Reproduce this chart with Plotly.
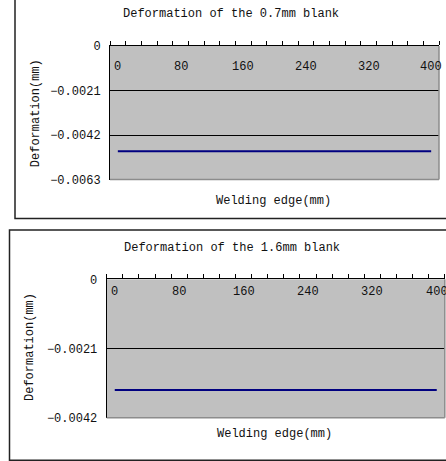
import plotly.graph_objects as go

W, H = 446, 461

# ---- data ----
categories = [0, 20, 40, 60, 80, 100, 120, 140, 160, 180, 200,
              220, 240, 260, 280, 300, 320, 340, 360, 380, 400]
deform_07 = [-0.00497, -0.00497, -0.00497, -0.00497, -0.00497, -0.00497, -0.00497,
             -0.00497, -0.00497, -0.00497, -0.00497, -0.00497, -0.00497, -0.00497,
             -0.00497, -0.00497, -0.00497, -0.00497, -0.00497, -0.00497, -0.00497]
deform_16 = [-0.00336, -0.00336, -0.00336, -0.00336, -0.00336, -0.00336, -0.00336,
             -0.00336, -0.00336, -0.00336, -0.00336, -0.00336, -0.00336, -0.00336,
             -0.00336, -0.00336, -0.00336, -0.00336, -0.00336, -0.00336, -0.00336]
x_tick_vals = [0, 80, 160, 240, 320, 400]
x_tick_text = ["0", "80", "160", "240", "320", "400"]
y_ticks_07 = [0, -0.0021, -0.0042, -0.0063]
y_text_07 = ["0", "\u22120.0021", "\u22120.0042", "\u22120.0063"]
y_ticks_16 = [0, -0.0021, -0.0042]
y_text_16 = ["0", "\u22120.0021", "\u22120.0042"]
titles = ["Deformation of the 0.7mm blank", "Deformation of the 1.6mm blank"]
x_title = "Welding edge(mm)"
y_title = "Deformation(mm)"

FONT = "Liberation Mono"
GRAY_BG = "#C0C0C0"
LINE_COLOR = "#000080"
TEXT_COLOR = "#111111"

# category boundaries (Excel-style tick marks between categories)
half = (categories[1] - categories[0]) / 2
bounds = [c - half for c in categories] + [categories[-1] + half]


def px_x(p):
    return p / W


def px_y(p):
    return 1 - p / H


fig = go.Figure()
fig.add_trace(go.Scatter(x=categories, y=deform_07, mode="lines",
                         line=dict(color=LINE_COLOR, width=2),
                         xaxis="x", yaxis="y", showlegend=False))
fig.add_trace(go.Scatter(x=categories, y=deform_16, mode="lines",
                         line=dict(color=LINE_COLOR, width=2),
                         xaxis="x2", yaxis="y2", showlegend=False))

panels = [
    dict(xd=[px_x(110), px_x(439)], yd=[px_y(179.5), px_y(46)],
         yt=y_ticks_07, ytt=y_text_07, yr=[-0.0063, 0], lab_shift=-21),
    dict(xd=[px_x(106.7), px_x(444.8)], yd=[px_y(417.7), px_y(279.3)],
         yt=y_ticks_16, ytt=y_text_16, yr=[-0.0042, 0], lab_shift=-12.5),
]

layout = dict(
    width=W, height=H, margin=dict(l=0, r=0, t=0, b=0, autoexpand=False),
    paper_bgcolor="white", plot_bgcolor=GRAY_BG,
    font=dict(family=FONT, size=12, color=TEXT_COLOR),
    showlegend=False,
)
shapes = []
annotations = []
for i, p in enumerate(panels):
    sx = "" if i == 0 else str(i + 1)
    xref = "x" + sx
    yref = "y" + sx
    layout["xaxis" + sx] = dict(
        domain=p["xd"], anchor=yref, side="top", range=[bounds[0], bounds[-1]],
        showline=True, linecolor="black", linewidth=1,
        tickmode="array", tickvals=bounds,
        ticks="outside", ticklen=4, tickcolor="black", tickwidth=1,
        showticklabels=False, showgrid=False, zeroline=False, automargin=False,
    )
    layout["yaxis" + sx] = dict(
        domain=p["yd"], anchor=xref, range=p["yr"],
        showline=True, linecolor="black", linewidth=1,
        tickmode="array", tickvals=p["yt"], ticktext=p["ytt"],
        ticks="inside", ticklen=5, tickcolor="black",
        ticklabelstandoff=6,
        tickfont=dict(family=FONT, size=12, color=TEXT_COLOR),
        showgrid=True, gridcolor="black", gridwidth=1, zeroline=False,
        automargin=False,
    )
    # x category labels inside the plot, below the top axis line
    for v, t in zip(x_tick_vals, x_tick_text):
        annotations.append(dict(text=t, xref=xref, yref=yref, x=v, y=0,
                                xanchor="center", yanchor="middle",
                                yshift=p["lab_shift"], showarrow=False,
                                font=dict(family=FONT, size=12, color=TEXT_COLOR)))
    # gray plot-area border on bottom and right
    xd, yd = p["xd"], p["yd"]
    shapes.append(dict(type="line", xref="paper", yref="paper", layer="above",
                       x0=xd[0], x1=xd[1], y0=yd[0], y1=yd[0],
                       line=dict(color="#8C8C8C", width=1.5)))
    shapes.append(dict(type="line", xref="paper", yref="paper", layer="above",
                       x0=xd[1], x1=xd[1], y0=yd[0], y1=yd[1],
                       line=dict(color="#8C8C8C", width=1.5)))

# chart outer borders
shapes.append(dict(type="rect", xref="paper", yref="paper", layer="below",
                   x0=px_x(15), x1=1.05, y0=px_y(218.5), y1=1.05,
                   line=dict(color="#222222", width=1.5)))
shapes.append(dict(type="rect", xref="paper", yref="paper", layer="below",
                   x0=px_x(9.5), x1=1.05, y0=px_y(460.2), y1=px_y(230),
                   line=dict(color="#222222", width=1.5)))

# titles and axis titles
title_pos = [(231, 14), (231.5, 248)]
xt_pos = [(273, 201), (274, 434.3)]
yt_pos = [(35.5, 113.7), (30, 347)]
for i in range(2):
    annotations.append(dict(text=titles[i], xref="paper", yref="paper",
                            x=px_x(title_pos[i][0]), y=px_y(title_pos[i][1]),
                            xanchor="center", yanchor="middle", showarrow=False,
                            font=dict(family=FONT, size=12, color=TEXT_COLOR)))
    annotations.append(dict(text=x_title, xref="paper", yref="paper",
                            x=px_x(xt_pos[i][0]), y=px_y(xt_pos[i][1]),
                            xanchor="center", yanchor="middle", showarrow=False,
                            font=dict(family=FONT, size=12, color=TEXT_COLOR)))
    annotations.append(dict(text=y_title, xref="paper", yref="paper",
                            x=px_x(yt_pos[i][0]), y=px_y(yt_pos[i][1]),
                            xanchor="center", yanchor="middle", showarrow=False,
                            textangle=-90,
                            font=dict(family=FONT, size=12, color=TEXT_COLOR)))

layout["shapes"] = shapes
layout["annotations"] = annotations
fig.update_layout(**layout)
fig.write_html("out.html", config={"displayModeBar": False},
               post_script="document.body.style.margin='0';document.body.style.overflow='hidden';")
